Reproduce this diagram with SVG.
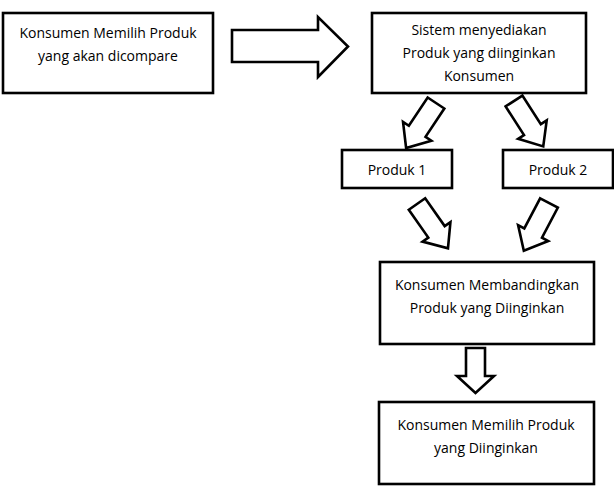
<svg xmlns="http://www.w3.org/2000/svg" width="614" height="501" viewBox="0 0 614 501">
<style>
.box{fill:#fff;stroke:#000;stroke-width:2.6}
.arr{fill:#fff;stroke:#000;stroke-width:2.6;stroke-linejoin:miter}
text{font-family:"Open Sans","Liberation Sans",sans-serif;font-size:14px;fill:#000;text-anchor:middle}
</style>
<defs>
<polygon id="diag" points="-10,0 10,0 10,34 17,34 0,54 -17,34 -10,34"/>
</defs>
<rect width="614" height="501" fill="#fff"/>
<g id="n1"><rect class="box" x="3" y="13" width="210" height="80"/>
<text x="108" y="38">Konsumen Memilih Produk</text><text x="108" y="61">yang akan dicompare</text></g>
<g id="n2"><rect class="box" x="372" y="13" width="214" height="80"/>
<text x="479" y="35">Sistem menyediakan</text><text x="479" y="58">Produk yang diinginkan</text><text x="479" y="81">Konsumen</text></g>
<g id="n3"><rect class="box" x="342" y="150" width="110" height="38"/><text x="397" y="175">Produk 1</text></g>
<g id="n4"><rect class="box" x="503" y="150" width="110" height="38"/><text x="558" y="175">Produk 2</text></g>
<g id="n5"><rect class="box" x="380" y="262" width="214" height="82"/>
<text x="487" y="290">Konsumen Membandingkan</text><text x="487" y="313">Produk yang Diinginkan</text></g>
<g id="n6"><rect class="box" x="379" y="402" width="215" height="82"/>
<text x="486" y="430">Konsumen Memilih Produk</text><text x="486" y="453">yang Diinginkan</text></g>
<g id="connectors">
<polygon class="arr" points="232,30 318,30 318,17 348,46.5 318,77 318,62 232,62"/>
<use class="arr" href="#diag" transform="translate(436,103) rotate(33.6)"/>
<use class="arr" href="#diag" transform="translate(514,101) rotate(-32.8)"/>
<use class="arr" href="#diag" transform="translate(417,204) rotate(-35)"/>
<use class="arr" href="#diag" transform="translate(549,203) rotate(27.8)"/>
<polygon class="arr" points="466,348 485,348 485,376 494,376 475.5,393 457,376 466,376"/>
</g>
</svg>
